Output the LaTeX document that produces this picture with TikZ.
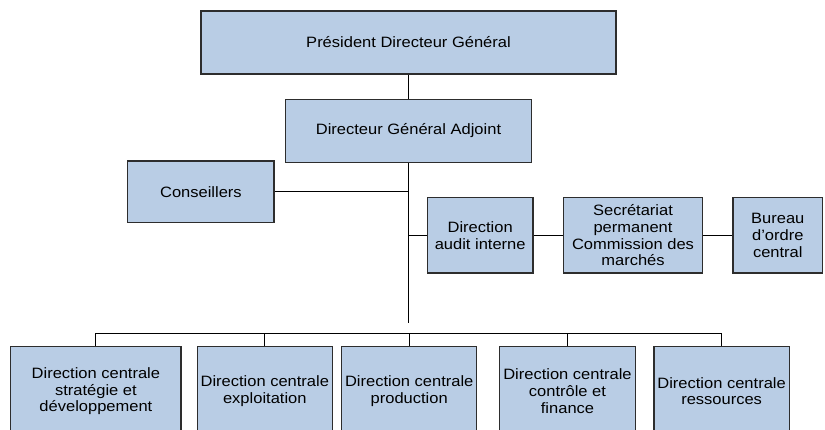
\documentclass[tikz,border=0pt]{standalone}
\usepackage{fontspec}
\setmainfont[FakeStretch=1.1]{Liberation Sans}
\tikzset{every picture/.style={line width=0.75pt}}
\definecolor{boxfill}{RGB}{185,205,229}
\definecolor{boxline}{RGB}{45,45,45}
\tikzset{
  orgbox/.style={draw=boxline, fill=boxfill, line width=1.2pt, rectangle, inner sep=2pt,
    align=center, font=\fontsize{15}{16.7}\selectfont},
  link/.style={draw=black, line width=1pt}
}

\begin{document}
\begin{tikzpicture}[x=1pt,y=1pt,yscale=-1,xscale=1]
\clip (0,0) rectangle (825,430);

% top of the chart
\node[orgbox, minimum width=415pt, minimum height=63pt] (pdg) at (408.5,42.5) {Président Directeur Général};
\node[orgbox, minimum width=245.5pt, minimum height=62.6pt] (dga) at (408.5,131) {Directeur Général Adjoint};
\node[orgbox, minimum width=146.3pt, minimum height=61.4pt] (cons) at (200.9,191.7) {Conseillers};

% staff row
\node[orgbox, minimum width=105.7pt, minimum height=75.3pt] (audit) at (480.2,235.3) {Direction\\audit interne};
\node[orgbox, minimum width=138.6pt, minimum height=75.3pt] (secr) at (633,235.3) {Secrétariat\\permanent\\Commission des\\marchés};
\node[orgbox, minimum width=89.7pt, minimum height=75.3pt] (bureau) at (777.8,235.3) {Bureau\\d’ordre\\central};

% central directions
\node[orgbox, minimum width=170.3pt, minimum height=89.7pt] (strat) at (95.9,391.2) {Direction centrale\\stratégie et\\développement};
\node[orgbox, minimum width=135pt, minimum height=89.7pt] (expl) at (264.8,391.2) {Direction centrale\\exploitation};
\node[orgbox, minimum width=135pt, minimum height=89.7pt] (prod) at (409.2,391.2) {Direction centrale\\production};
\node[orgbox, minimum width=135.6pt, minimum height=89.7pt] (ctrl) at (567.5,391.2) {Direction centrale\\contrôle et\\finance};
\node[orgbox, minimum width=135.3pt, minimum height=89.7pt] (ress) at (721.6,391.2) {Direction centrale\\ressources};

\coordinate (trunk) at (408.5,322.7);
\coordinate (bus) at (408.5,333.3);

% connectors
\draw[link] (pdg.south) -- (dga.north);
\draw[link] (dga.south) -- (trunk);
\draw[link] (cons.east) -- (cons.east -| dga.south);
\draw[link] (audit.west -| dga.south) -- (audit.west);
\draw[link] (audit.east) -- (secr.west);
\draw[link] (secr.east) -- (bureau.west);
\draw[link] (strat.north) -- (strat.north |- bus) -| (ress.north);
\draw[link] (expl.north) -- (expl.north |- bus);
\draw[link] (prod.north) -- (prod.north |- bus);
\draw[link] (ctrl.north) -- (ctrl.north |- bus);

\end{tikzpicture}
\end{document}
